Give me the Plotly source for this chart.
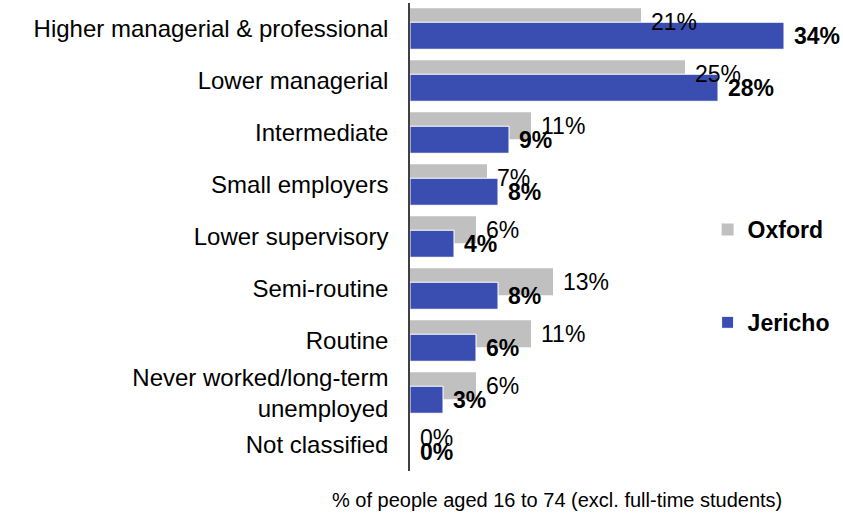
import plotly.graph_objects as go

categories = [
    "Higher managerial & professional",
    "Lower managerial",
    "Intermediate",
    "Small employers",
    "Lower supervisory",
    "Semi-routine",
    "Routine",
    "Never worked/long-term<br>unemployed",
    "Not classified",
]
oxford = [21, 25, 11, 7, 6, 13, 11, 6, 0]
jericho = [34, 28, 9, 8, 4, 8, 6, 3, 0]

GREY = "#C0C0C0"
BLUE = "#3A4DB0"
FONT = "Liberation Sans, Arial, sans-serif"

# bar geometry in category units: the two series overlap, Jericho on top
BAR_W = 0.52
OX_OFF = -0.40
JE_OFF = -0.13

fig = go.Figure()

fig.add_trace(go.Bar(
    name="Oxford",
    y=categories,
    x=oxford,
    orientation="h",
    width=BAR_W,
    offset=OX_OFF,
    marker=dict(color=GREY, line=dict(width=0)),
    legendgroup="a",
))

fig.add_trace(go.Bar(
    name="Jericho",
    y=categories,
    x=jericho,
    orientation="h",
    width=BAR_W,
    offset=JE_OFF,
    marker=dict(color=BLUE, line=dict(width=1, color="white")),
    legendgroup="b",
))

# value labels drawn above both series so none is hidden by a bar
annotations = []
for i, (ox, je) in enumerate(zip(oxford, jericho)):
    annotations.append(dict(
        x=ox, y=i + OX_OFF + BAR_W / 2, xref="x", yref="y",
        text=f"{ox}%", showarrow=False, xanchor="left", yanchor="middle",
        xshift=9, borderpad=0,
        font=dict(family=FONT, size=23, color="black"),
    ))
    annotations.append(dict(
        x=je, y=i + JE_OFF + BAR_W / 2, xref="x", yref="y",
        text=f"<b>{je}%</b>", showarrow=False, xanchor="left", yanchor="middle",
        xshift=9, borderpad=0,
        font=dict(family=FONT, size=23, color="black"),
    ))

annotations.append(dict(
    text="% of people aged 16 to 74 (excl. full-time students)",
    xref="paper",
    yref="paper",
    x=(557 - 410) / 418,
    y=-0.062,
    xanchor="center",
    yanchor="middle",
    showarrow=False,
    font=dict(family=FONT, size=20, color="black"),
))

fig.update_layout(
    width=843,
    height=515,
    margin=dict(l=410, r=15, t=3, b=44),
    paper_bgcolor="white",
    plot_bgcolor="white",
    barmode="overlay",
    font=dict(family=FONT, size=20, color="black"),
    xaxis=dict(
        range=[0, 38],
        showticklabels=False,
        showgrid=False,
        zeroline=False,
        showline=False,
        ticks="",
    ),
    yaxis=dict(
        categoryorder="array",
        categoryarray=categories,
        range=[8.5, -0.5],
        showgrid=False,
        zeroline=False,
        showline=True,
        linecolor="#404040",
        linewidth=1.5,
        ticks="",
        ticklabelstandoff=15,
        tickfont=dict(family=FONT, size=24, color="black"),
    ),
    legend=dict(
        x=0.712,
        xanchor="left",
        y=0.562,
        yanchor="top",
        traceorder="grouped",
        tracegroupgap=60,
        font=dict(family=FONT, size=23, color="black", weight="bold"),
        bgcolor="rgba(0,0,0,0)",
    ),
    showlegend=True,
    annotations=annotations,
)

fig.write_html("out.html")
